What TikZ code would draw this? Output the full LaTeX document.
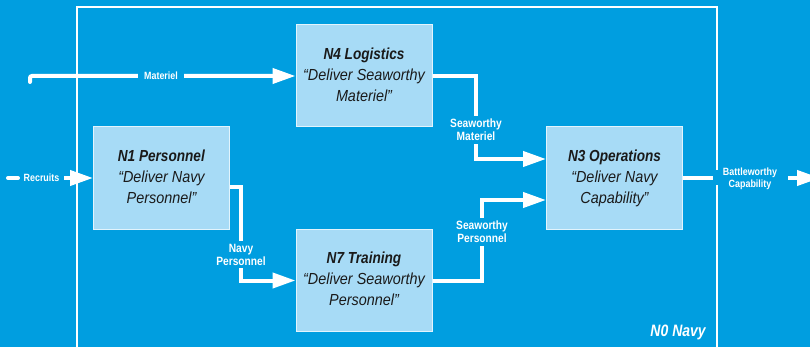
\documentclass[tikz,border=0pt]{standalone}
\usepackage{fontspec}
\setmainfont[FakeStretch=0.85]{Liberation Sans}
\newfontfamily\quotefont[FakeStretch=0.9]{Liberation Sans}
\usetikzlibrary{arrows.meta,calc}
\definecolor{navybg}{HTML}{009EE0}
\definecolor{boxfill}{HTML}{A7DBF6}
\definecolor{boxline}{HTML}{E2F4FD}
\definecolor{boxtext}{HTML}{1A1A1A}
\newcommand{\blocktitle}[1]{\textbf{\textit{#1}}}
\newcommand{\blockquote}[1]{{\quotefont\itshape #1}}
\begin{document}
\begin{tikzpicture}[x=1pt,y=-1pt,
  box/.style={draw=boxline,line width=1pt,fill=boxfill,text=boxtext,
    align=center,inner sep=0pt,minimum width=136pt,minimum height=102pt,
    font=\fontsize{16}{21}\selectfont},
  flow/.style={draw=white,line width=4pt,-{Triangle[length=23pt,width=15pt]}},
  plain/.style={draw=white,line width=4pt},
  lbl/.style={text=white,fill=navybg,align=center,inner xsep=3pt,inner ysep=1pt,
    font=\bfseries\fontsize{12}{13}\selectfont},
  slbl/.style={lbl,font=\bfseries\fontsize{10.5}{12}\selectfont},
  frame/.style={draw=white,line width=1.5pt}]
  \clip (0,0) rectangle (810,347);
  \fill[navybg] (0,0) rectangle (810,347);

  % outer boundary of the navy system, open where the output leaves
  \path[frame] (77,360) -- (77,7) -- (717,7) -- (717,170);
  \path[frame] (717,185) -- (717,360);
  \node[text=white,anchor=south east,inner sep=0pt,
    font=\bfseries\itshape\fontsize{16.5}{18}\selectfont] (n0) at (706,340) {N0 Navy};

  % functional blocks
  \node[box] (n4) at (364,76)
    {\blocktitle{N4 Logistics}\\\blockquote{“Deliver Seaworthy}\\\blockquote{Materiel”\vphantom{y}}};
  \node[box] (n1) at (161.5,178)
    {\blocktitle{N1 Personnel}\\\blockquote{“Deliver Navy}\\\blockquote{Personnel”\vphantom{y}}};
  \node[box] (n7) at (364,280.5)
    {\blocktitle{N7 Training}\\\blockquote{“Deliver Seaworthy}\\\blockquote{Personnel”\vphantom{y}}};
  \node[box] (n3) at (614.5,178)
    {\blocktitle{N3 Operations}\\\blockquote{“Deliver Navy}\\\blockquote{Capability”}};

  % external inputs
  \coordinate (matin) at (30,82);
  \path[flow,rounded corners=2pt,line cap=round] (matin) |- (n4.west);
  \node[slbl,inner xsep=6pt] (lmat) at (161,76) {Materiel};

  \coordinate (recin) at (8,178);
  \coordinate (recmid) at (18,178);
  \coordinate (recarr) at (64,178);
  \path[plain,line cap=round] (recin) -- (recmid);
  \node[slbl,fill=none] (lrec) at (41.5,178) {Recruits};
  \path[flow] (recarr) -- (n1.west);

  % internal flows
  \path[flow] ($(n1.east)+(0,9)$) -| ($(n7.west)+(-55,0)$) -- (n7.west);
  \node[lbl,inner ysep=3pt] (lnavy) at (241,254.5) {Navy\\Personnel};

  \path[flow] (n4.east) -| ($(n3.west)+(-70,-19)$) -- ($(n3.west)+(0,-19)$);
  \node[lbl,inner ysep=3pt] (lsmat) at (476,130) {Seaworthy\\Materiel};

  \path[flow] (n7.east) -| ($(n3.west)+(-64,22)$) -- ($(n3.west)+(0,22)$);
  \node[lbl,inner ysep=3pt] (lspers) at (482,232) {Seaworthy\\Personnel};

  % system output
  \coordinate (outedge) at (713,178);
  \coordinate (outarr) at (788,178);
  \coordinate (outtip) at (820,178);
  \path[plain] (n3.east) -- (outedge);
  \node[slbl,fill=none] (lbat) at (750,179) {Battleworthy\\Capability};
  \path[flow] (outarr) -- (outtip);
\end{tikzpicture}
\end{document}
